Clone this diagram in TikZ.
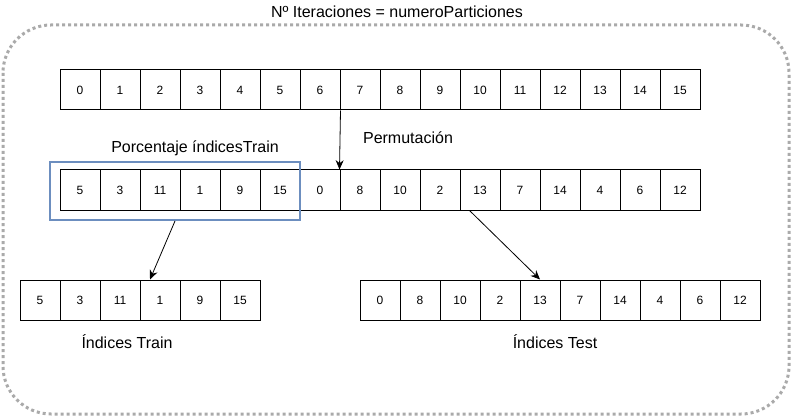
\documentclass[tikz,border=0pt]{standalone}
\usepackage{fontspec}
\setmainfont{Liberation Sans}
\usetikzlibrary{arrows.meta}
\usetikzlibrary{positioning}
\definecolor{azul}{HTML}{6C8EBF}
\definecolor{gris}{HTML}{AAAAAA}
\tikzstyle{celda}=[draw,minimum size=30pt,inner sep=0pt,line width=0.75pt,font=\fontsize{9}{10}\selectfont]
\tikzstyle{seleccion}=[draw=azul,line width=1.5pt,minimum width=187.5pt,minimum height=43.5pt,inner sep=0pt]
\tikzstyle{etiqueta}=[font=\fontsize{12}{14}\selectfont]
\tikzstyle{titulo}=[font=\fontsize{12}{14}\selectfont]
\tikzstyle{flecha}=[-{Stealth[length=7pt,width=6pt]},line width=0.6pt]
\tikzstyle{marco}=[draw=gris,line width=2.25pt,dash pattern=on 2.25pt off 2.25pt,rounded corners=36pt]

\begin{document}
\begin{tikzpicture}[x=0.75pt,y=-0.75pt]
\useasboundingbox (0,0) rectangle (792,417);

%Marco de iteraciones
\draw[marco] (3,25) rectangle (789,414);
\node[titulo] (tit) at (397,12) {Nº Iteraciones = numeroParticiones};

%Fila original
\foreach \val [count=\i from 0] in {0,...,15}
    \node[celda] (a\i) at (80+40*\i, 90) {\val};

%Fila permutada
\foreach \val [count=\i from 0] in {5,3,11,1,9,15,0,8,10,2,13,7,14,4,6,12}
    \node[celda] (b\i) at (80+40*\i, 190) {\val};
\node[seleccion] (sel) at (175,191) {};

%Indices train
\foreach \val [count=\i from 0] in {5,3,11,1,9,15}
    \node[celda] (tr\i) at (40+40*\i, 300) {\val};

%Indices test
\foreach \val [count=\i from 0] in {0,8,10,2,13,7,14,4,6,12}
    \node[celda] (te\i) at (380+40*\i, 300) {\val};

\draw[flecha] (a6.south east) -- (b7.north west);
\draw[flecha] (sel.south) -- ([xshift=-7.5pt]tr3.north);
\draw[flecha] ([xshift=7.5pt]b10.south west) -- (te4.north);

\node[etiqueta] (perm) at (408,138) {Permutación};
\node[etiqueta] (porc) at (195,148) {Porcentaje índicesTrain};
\node[etiqueta] (ltr) at (127,342) {Índices Train};
\node[etiqueta] (lte) at (555,342) {Índices Test};

\end{tikzpicture}
\end{document}
